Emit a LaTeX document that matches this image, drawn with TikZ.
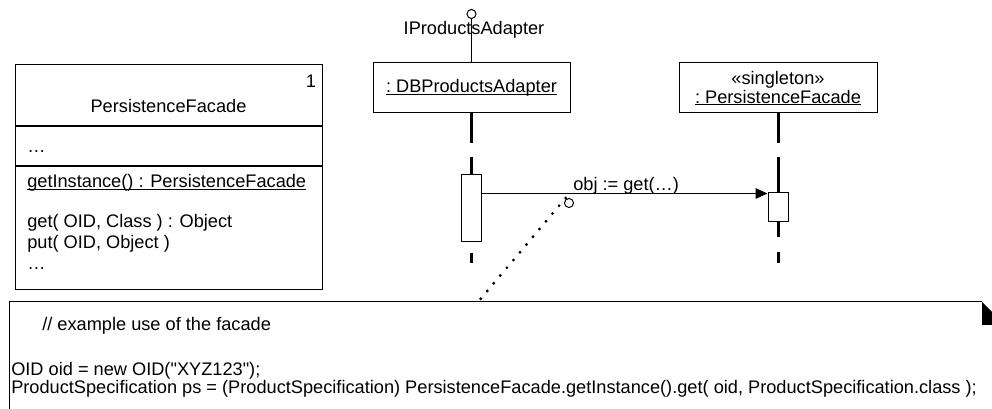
\documentclass[tikz,border=0pt]{standalone}
\usepackage{fontspec}
\setmainfont{Liberation Sans}[Ligatures=TeXOff]
\usetikzlibrary{arrows.meta,positioning}
\newcommand{\umlfont}{\fontsize{13.65pt}{15.4pt}\selectfont}
\newcommand{\ulbase}[1]{\setbox0\hbox{#1}\rlap{\rule[-1.4pt]{\wd0}{0.6pt}}\box0}
\tikzset{
  compart/.style={draw, line width=0.75pt, minimum width=230.25pt, inner sep=0pt},
  objbox/.style={draw, line width=0.75pt, align=center, minimum height=37.5pt, inner sep=0pt},
  actbox/.style={draw, line width=0.75pt, fill=white, minimum width=15pt, inner sep=0pt},
  lifeline/.style={line width=2.25pt},
  msgarrow/.style={-{Triangle[length=9pt,width=8pt]}, line width=0.75pt},
  ball/.style={draw, circle, line width=0.75pt, fill=white, minimum size=6.8pt, inner sep=0pt},
  txt/.style={inner sep=0pt, anchor=base west},
  notelink/.style={line width=2.4pt, line cap=round, dash pattern=on 0pt off 7.6pt}
}
\begin{document}
\begin{tikzpicture}[x=0.75pt, y=-0.75pt, every node/.style={font=\umlfont}]
  \useasboundingbox (0,0) rectangle (992,409);
  \clip (0,0) rectangle (992,409);

  % class PersistenceFacade
  \node[compart, anchor=north west, minimum height=45.75pt] (pfname) at (15,64) {};
  \node[compart, minimum height=29.25pt, below=0pt of pfname] (pfattr) {};
  \node[compart, minimum height=92.25pt, below=0pt of pfattr] (pfops) {};
  \node[inner sep=0pt, anchor=base] (pfmult) at (311,88) {1};
  \node[inner sep=0pt, anchor=base] (pftitle) at (168.5,113) {PersistenceFacade};
  \node[txt] (pfdots) at (27,153) {…};
  \node[txt] (pfinst) at (27,188) {\ulbase{getInstance() : PersistenceFacade}};
  \node[txt] (pfget) at (27,228) {get( OID, Class ) : Object};
  \node[txt] (pfput) at (27,249) {put( OID, Object )};
  \node[txt] (pfmore) at (27,270) {…};

  % objects
  \node[objbox, minimum width=147.75pt] (dbadapter) at (471.5,88) {\ulbase{:\ DBProductsAdapter}};
  \node[objbox, minimum width=148.5pt] (pfobj) at (778,88) {«singleton»\\[-1pt]\ulbase{:\ PersistenceFacade}};

  % provided interface
  \node[ball] (iface) at (471.5,14) {};
  \node[inner sep=0pt, anchor=base] (ifacelbl) at (474,35) {IProductsAdapter};
  \draw[line width=0.75pt] (iface) -- (dbadapter);

  % activations
  \node[actbox, minimum height=50.25pt] (act1) at (471.5,208.5) {};
  \node[actbox, minimum height=21.75pt] (act2) at (778,207.5) {};

  % lifelines
  \draw[lifeline] (dbadapter.south) -- ++(0,30);
  \draw[lifeline] (act1.north) -- ++(0,-17);
  \draw[lifeline] (act1.south) ++(0,11) -- ++(0,10);
  \draw[lifeline] (pfobj.south) -- ++(0,30);
  \draw[lifeline] (act2.north) -- ++(0,-35);
  \draw[lifeline] (act2.south) -- ++(0,15);
  \draw[lifeline] (act2.south) ++(0,30) -- ++(0,11);

  % message
  \draw[msgarrow] ([yshift=-0.75pt]act1.east |- act2.north) -- ([yshift=-0.75pt]act2.north west);
  \node[inner sep=0pt, anchor=base west] (msglbl) at (573,191) {obj := get(…)};

  % note
  \coordinate (note) at (478,302);
  \draw[line width=0.75pt] (982,302) -- (9,302) -- (9,420);
  \fill (982,302) -- (992,312) -- (992,325) -- (982,325) -- cycle;
  \node[ball] (link) at (569,203) {};
  \draw[notelink] ([shift={(-124:6)}]link.center) -- (note);
  \node[txt] (notecmt) at (42,331) {// example use of the facade};
  \node[txt] (notel1) at (11,376) {OID oid = new OID("XYZ123");};
  \node[txt] (notel2) at (11,393) {ProductSpecification ps = (ProductSpecification) PersistenceFacade.getInstance().get( oid, ProductSpecification.class );};
\end{tikzpicture}
\end{document}
